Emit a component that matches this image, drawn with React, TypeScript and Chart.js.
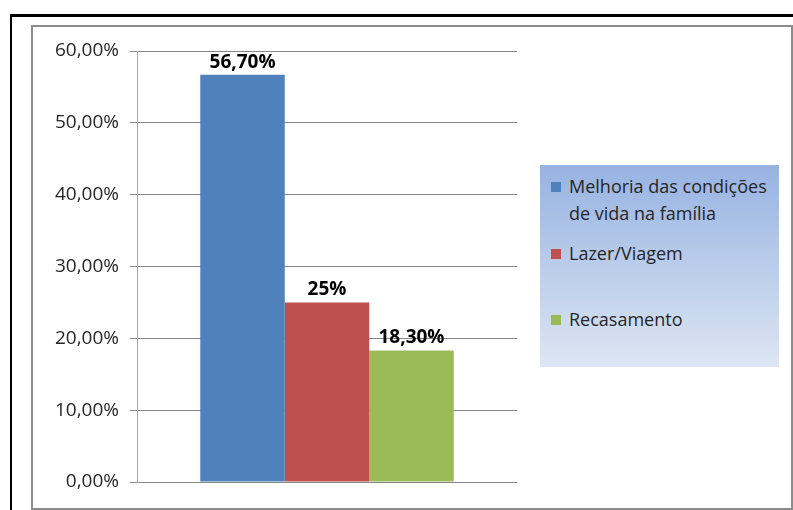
import React, { useEffect, useRef } from "react";
import { Chart, registerables } from "chart.js";

Chart.register(...registerables);

const categories = [""];
const seriesNames = ["Melhoria das condições de vida na família", "Lazer/Viagem", "Recasamento"];
const seriesValues = [56.7, 25, 18.3];
const valueLabels = ["56,70%", "25%", "18,30%"];
const seriesColors = ["#4f81bd", "#c0504d", "#9bbb59"];
const yTicks = [0, 10, 20, 30, 40, 50, 60];

const FONT = "'Open Sans', 'DejaVu Sans', sans-serif";

const labelPlugin = {
  id: "valueLabels",
  afterDatasetsDraw(chart: any) {
    const ctx = chart.ctx;
    ctx.save();
    ctx.font = `bold 19px ${FONT}`;
    ctx.fillStyle = "#000000";
    ctx.textAlign = "center";
    ctx.textBaseline = "bottom";
    chart.data.datasets.forEach((_ds: any, i: number) => {
      const meta = chart.getDatasetMeta(i);
      meta.data.forEach((bar: any) => {
        ctx.fillText(valueLabels[i], bar.x, bar.y - 3);
      });
    });
    ctx.restore();
  },
};

export default function App() {
  const ref = useRef<HTMLCanvasElement>(null);
  useEffect(() => {
    document.body.style.margin = "0";
    const chart = new Chart(ref.current!, {
      type: "bar",
      data: {
        labels: categories,
        datasets: seriesNames.map((name, i) => ({
          label: name,
          data: [seriesValues[i]],
          backgroundColor: seriesColors[i],
          borderWidth: 0,
          categoryPercentage: 0.667,
          barPercentage: 1,
        })),
      },
      options: {
        animation: false,
        responsive: false,
        layout: { padding: { left: 0, right: 276, top: 51, bottom: 28 } },
        plugins: { legend: { display: false }, tooltip: { enabled: false } },
        scales: {
          x: { display: false },
          y: {
            min: 0,
            max: 60,
            afterFit: (s: any) => {
              s.width = 137;
            },
            afterBuildTicks: (s: any) => {
              s.ticks = yTicks.map((v) => ({ value: v }));
            },
            border: { display: true, color: "#a6a6a6", width: 1 },
            grid: { color: "#868686", lineWidth: 1, tickLength: 7, drawTicks: true },
            ticks: {
              padding: 11,
              color: "#262626",
              font: { family: FONT, size: 19 },
              callback: (v: any) => Number(v).toFixed(2).replace(".", ",") + "%",
            },
          },
        },
      },
      plugins: [labelPlugin],
    });
    return () => chart.destroy();
  }, []);

  return (
    <div style={{ position: "relative", width: 793, height: 510, background: "#fff", overflow: "hidden" }}>
      <div style={{ position: "absolute", left: 10, top: 14, width: 800, height: 520, borderLeft: "2px solid #000", borderTop: "3px solid #000" }} />
      <div style={{ position: "absolute", left: 31, top: 25, width: 758, height: 481, border: "2px solid #8c8c8c" }} />
      <canvas ref={ref} width={793} height={510} style={{ position: "absolute", left: 0, top: 0 }} />
      <div
        style={{
          position: "absolute",
          left: 540,
          top: 165,
          width: 239,
          height: 202,
          background: "linear-gradient(to bottom, #97b3e2, #dde6f3)",
          fontFamily: FONT,
          fontSize: 18,
          color: "#262626",
        }}
      >
        {seriesNames.map((name, i) => (
          <div
            key={i}
            style={{
              position: "absolute",
              left: 11,
              top: [8, 75, 141][i],
              width: 228,
              display: "flex",
              lineHeight: "27px",
            }}
          >
            <span style={{ width: 10, height: 10, background: seriesColors[i], marginTop: 9, marginRight: 8, flex: "none" }} />
            <span>{name}</span>
          </div>
        ))}
      </div>
    </div>
  );
}
